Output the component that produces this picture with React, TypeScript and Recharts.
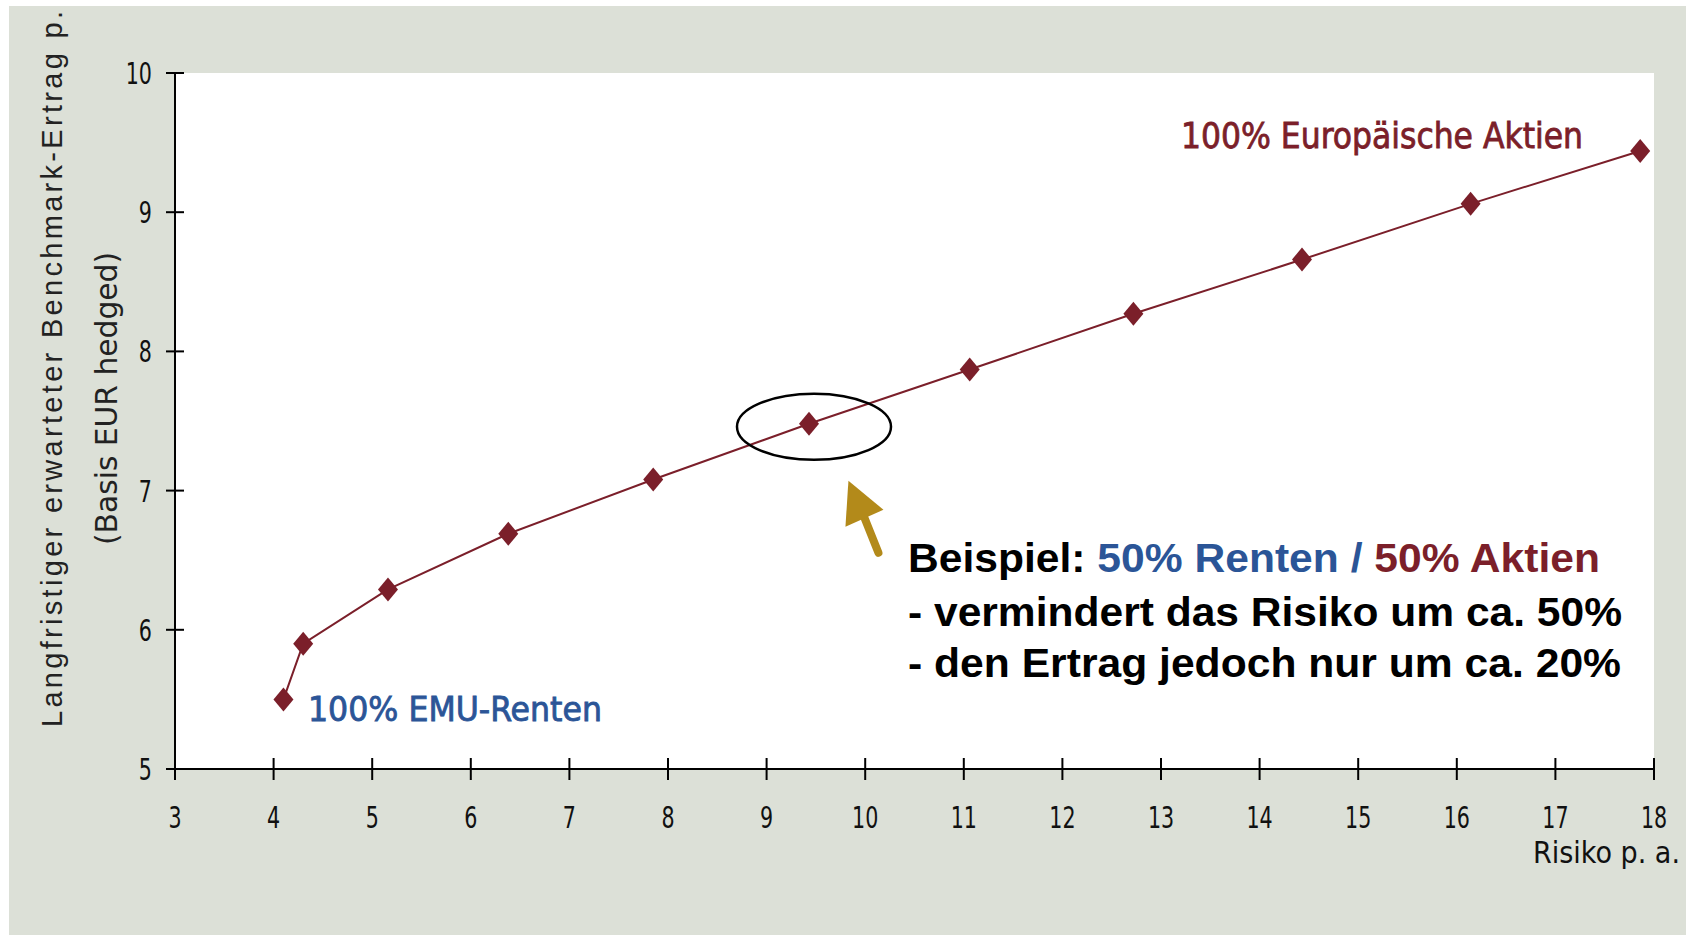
import { LineChart, Line, XAxis, YAxis, ReferenceDot } from 'recharts';

// risk p.a. (x) and expected return p.a. (y), from 100% EMU bonds to 100% European equities
const risk = [4.1, 4.3, 5.16, 6.38, 7.85, 9.43, 11.06, 12.72, 14.43, 16.14, 17.86];
const ret = [5.5, 5.9, 6.29, 6.69, 7.08, 7.48, 7.87, 8.27, 8.66, 9.06, 9.44];
const xTicks = [3, 4, 5, 6, 7, 8, 9, 10, 11, 12, 13, 14, 15, 16, 17, 18];
const yTicks = [5, 6, 7, 8, 9, 10];

// the 50/50 mix that is circled, and where the arrow points
const mixPoint = [9.43, 7.48];
const arrowTip = [9.83, 7.07];

const data = risk.map((r, i) => ({ risk: r, ret: ret[i] }));

const RED = '#7B1F2A';
const BLUE = '#2B5597';
const GOLD = '#B38A1A';
const NARROW = '"Liberation Sans Narrow", "DejaVu Sans Condensed", sans-serif';
const ARIAL = '"Liberation Sans", Arial, sans-serif';

const Diamond = (props: any) => {
  const { cx, cy, index } = props;
  if (cx == null || cy == null) return <g key={index} />;
  return (
    <path
      key={index}
      d={`M${cx},${cy - 12} L${cx + 10},${cy} L${cx},${cy + 12} L${cx - 10},${cy} Z`}
      fill={RED}
    />
  );
};

// condensed tick label: squeeze the glyphs horizontally
const Label = ({ x, y, anchor, children }: any) => (
  <text
    transform={`translate(${x},${y}) scale(0.74,1)`}
    textAnchor={anchor}
    fontFamily={NARROW}
    fontSize={31}
    fill="#111"
  >
    {children}
  </text>
);

const XTick = ({ x, y, payload }: any) => (
  <g>
    <line x1={x} x2={x} y1={y - 11} y2={y + 11} stroke="#000" strokeWidth={2} />
    <Label x={x} y={y + 59} anchor="middle">{payload.value}</Label>
  </g>
);

const YTick = ({ x, y, payload }: any) => (
  <g>
    <line x1={x - 9} x2={x + 9} y1={y} y2={y} stroke="#000" strokeWidth={2} />
    <Label x={x - 23} y={y + 11} anchor="end">{payload.value}</Label>
  </g>
);

const Ellipse = ({ cx, cy }: any) => (
  <ellipse cx={cx + 5} cy={cy + 3} rx={77} ry={33} fill="none" stroke="#000" strokeWidth={2.5} />
);

const Arrow = ({ cx, cy }: any) => (
  <g>
    <line x1={cx + 16} y1={cy + 37} x2={cx + 30} y2={cy + 72} stroke={GOLD} strokeWidth={8} strokeLinecap="round" />
    <path d={`M${cx},${cy} L${cx + 35},${cy + 29} L${cx - 3},${cy + 46} Z`} fill={GOLD} />
  </g>
);

export default function App() {
  return (
    <div style={{ position: 'absolute', left: 0, top: 0, width: 1686, height: 935, background: '#fff' }}>
      <div style={{ position: 'absolute', left: 9, top: 6, width: 1677, height: 929, background: '#DCE0D7' }} />
      <div style={{ position: 'absolute', left: 175, top: 73, width: 1479, height: 696, background: '#fff' }} />
      <div style={{ position: 'absolute', left: 0, top: 0 }}>
        <LineChart width={1686} height={935} data={data} margin={{ top: 73, right: 32, bottom: 165, left: 174 }}>
          <XAxis
            dataKey="risk"
            type="number"
            domain={[3, 18]}
            ticks={xTicks}
            interval={0}
            height={1}
            tickSize={0}
            tickMargin={0}
            tickLine={false}
            axisLine={{ stroke: '#000', strokeWidth: 2 }}
            tick={<XTick />}
          />
          <YAxis
            dataKey="ret"
            type="number"
            domain={[5, 10]}
            ticks={yTicks}
            interval={0}
            width={1}
            tickSize={0}
            tickMargin={0}
            tickLine={false}
            axisLine={{ stroke: '#000', strokeWidth: 2 }}
            tick={<YTick />}
          />
          <Line
            dataKey="ret"
            stroke={RED}
            strokeWidth={2}
            dot={Diamond}
            activeDot={false}
            isAnimationActive={false}
          />
          <ReferenceDot x={mixPoint[0]} y={mixPoint[1]} shape={<Ellipse />} />
          <ReferenceDot x={arrowTip[0]} y={arrowTip[1]} shape={<Arrow />} />
        </LineChart>
      </div>
      <svg
        width={1686}
        height={935}
        style={{ position: 'absolute', left: 0, top: 0, pointerEvents: 'none' }}
      >
        <text
          transform="translate(62,727) rotate(-90)"
          fontFamily={ARIAL}
          fontSize={29}
          fill="#222"
          textLength={716}
          lengthAdjust="spacing"
        >
          Langfristiger erwarteter Benchmark-Ertrag p.
        </text>
        <text
          transform="translate(117,545) rotate(-90)"
          fontFamily={NARROW}
          fontSize={30}
          fill="#222"
          textLength={293}
          lengthAdjust="spacingAndGlyphs"
        >
          (Basis EUR hedged)
        </text>
        <text x={1533} y={863} fontFamily={NARROW} fontSize={31} fill="#111" textLength={147} lengthAdjust="spacingAndGlyphs">
          Risiko p. a.
        </text>
        <text x={1181} y={148} fontFamily={NARROW} fontSize={36} fill={RED} stroke={RED} strokeWidth={0.8} textLength={402} lengthAdjust="spacingAndGlyphs">
          100%  Europäische Aktien
        </text>
        <text x={308} y={721} fontFamily={NARROW} fontSize={34} fill={BLUE} stroke={BLUE} strokeWidth={0.8} textLength={294} lengthAdjust="spacingAndGlyphs">
          100%  EMU-Renten
        </text>
        <text x={908} y={572} fontFamily={ARIAL} fontWeight="bold" fontSize={40} textLength={692} lengthAdjust="spacingAndGlyphs">
          <tspan fill="#000">Beispiel: </tspan>
          <tspan fill={BLUE}>50% Renten / </tspan>
          <tspan fill={RED}>50% Aktien</tspan>
        </text>
        <text x={908} y={626} fontFamily={ARIAL} fontWeight="bold" fontSize={40} fill="#000" textLength={714} lengthAdjust="spacingAndGlyphs">
          - vermindert das Risiko um ca. 50%
        </text>
        <text x={908} y={677} fontFamily={ARIAL} fontWeight="bold" fontSize={40} fill="#000" textLength={713} lengthAdjust="spacingAndGlyphs">
          - den Ertrag jedoch nur um ca. 20%
        </text>
      </svg>
    </div>
  );
}
